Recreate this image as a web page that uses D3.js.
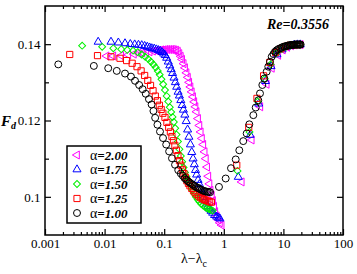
<!DOCTYPE html>
<html>
<head>
<meta charset="utf-8">
<script src="https://cdn.jsdelivr.net/npm/d3@7"></script>
<style>
  body { margin: 0; background: #fff; }
  svg { display: block; }
  text { font-family: "Liberation Serif", "Times New Roman", serif; }
</style>
</head>
<body>
<svg id="chart"></svg>
<script>
// values: [lambda - lambda_c, F_d]
const alpha200 = [
  [0.0108,0.1369],[0.014,0.1369],[0.019,0.1370],[0.025,0.1372],[0.031,0.1374],[0.037,0.1376],[0.043,0.1377],
  [0.05,0.1379],[0.057,0.1380],[0.065,0.1382],[0.073,0.1383],[0.081,0.1384],[0.089,0.1385],[0.097,0.1385],
  [0.105,0.1386],[0.113,0.1386],[0.122,0.1386],[0.131,0.1386],[0.14,0.1386],[0.15,0.1385],[0.16,0.1384],
  [0.17,0.1381],[0.18,0.1375],[0.19,0.1368],[0.2,0.1360],[0.212,0.1349],[0.224,0.1338],[0.237,0.1325],
  [0.25,0.1313],[0.263,0.1300],[0.276,0.1288],[0.29,0.1275],[0.305,0.1262],[0.32,0.1249],[0.335,0.1236],
  [0.35,0.1223],[0.37,0.1205],[0.39,0.1187],[0.41,0.1170],[0.43,0.1153],[0.453,0.1137],[0.477,0.1118],
  [0.5,0.1100],[0.525,0.1078],[0.55,0.1054],[0.575,0.1034],[0.6,0.1017],[0.63,0.1004],[0.66,0.0990],
  [0.69,0.0975],[0.72,0.0961],[0.76,0.0950],[0.81,0.0940],[0.86,0.0932],[0.92,0.0926],
  [2.0,0.1039],[2.94,0.1149],[4.1,0.1236],[5.25,0.1295],[6.4,0.1337],[8.2,0.1371],[9.8,0.1385],
  [11.6,0.1392],[13.5,0.1396],[15.5,0.1398],[17.5,0.1399],[19.5,0.1399]
];

const alpha175 = [
  [0.0078,0.1406],[0.0128,0.1406],[0.017,0.1404],[0.022,0.1402],[0.027,0.1400],[0.032,0.1399],[0.037,0.1398],
  [0.042,0.1397],[0.047,0.1395],[0.052,0.1393],[0.057,0.1391],[0.062,0.1389],[0.068,0.1388],[0.074,0.1386],
  [0.08,0.1384],[0.086,0.1382],[0.092,0.1379],[0.098,0.1375],[0.104,0.1371],[0.11,0.1364],[0.117,0.1354],
  [0.124,0.1344],[0.131,0.1334],[0.138,0.1324],[0.146,0.1312],[0.154,0.1300],[0.162,0.1288],[0.171,0.1275],
  [0.18,0.1265],[0.19,0.1253],[0.2,0.1240],[0.21,0.1228],[0.222,0.1215],[0.234,0.1198],[0.247,0.1176],
  [0.26,0.1157],[0.275,0.1137],[0.29,0.1117],[0.305,0.1100],[0.32,0.1085],[0.335,0.1070],[0.35,0.1058],
  [0.37,0.1044],[0.39,0.1033],[0.41,0.1020],[0.43,0.1010],[0.455,0.0999],[0.48,0.0990],[0.51,0.0982],
  [0.54,0.0975],[0.57,0.0969],[0.61,0.0963],[0.65,0.0958],[0.7,0.0952],[0.76,0.0948],[0.82,0.0945],[0.86,0.0943],
  [1.75,0.1052],[2.77,0.1162],[3.85,0.1244],[5.0,0.1303],[6.2,0.1342],[7.8,0.1373],[9.5,0.1386],
  [11.3,0.1393],[13.2,0.1396],[15.2,0.1398],[17.2,0.1399],[19.2,0.1399]
];

const alpha150 = [
  [0.0042,0.1396],[0.0091,0.1393],[0.014,0.1389],[0.019,0.1387],[0.024,0.1385],[0.03,0.1383],[0.036,0.1379],
  [0.042,0.1373],[0.048,0.1367],[0.054,0.1361],[0.06,0.1354],[0.066,0.1347],[0.072,0.1339],[0.078,0.1330],
  [0.084,0.1320],[0.09,0.1308],[0.096,0.1295],[0.103,0.1280],[0.11,0.1264],[0.117,0.1250],[0.124,0.1235],
  [0.131,0.1222],[0.138,0.1209],[0.145,0.1196],[0.153,0.1180],[0.161,0.1163],[0.17,0.1145],[0.18,0.1125],
  [0.19,0.1107],[0.2,0.1092],[0.211,0.1077],[0.223,0.1064],[0.236,0.1053],[0.25,0.1043],[0.265,0.1035],
  [0.28,0.1027],[0.3,0.1017],[0.32,0.1008],[0.34,0.1000],[0.365,0.0993],[0.39,0.0987],[0.42,0.0981],
  [0.45,0.0977],[0.48,0.0974],[0.52,0.0970],[0.56,0.0968],[0.6,0.0966],[0.65,0.0964],
  [1.7,0.1068],[2.7,0.1170],[3.7,0.1250],[4.85,0.1309],[6.1,0.1347],[7.6,0.1376],[9.3,0.1387],
  [11.1,0.1393],[13.0,0.1396],[15.0,0.1398],[17.0,0.1399],[19.0,0.1399]
];

const alpha125 = [
  [0.0026,0.1373],[0.0076,0.1370],[0.0128,0.1367],[0.0181,0.1363],[0.0234,0.1357],[0.029,0.1350],[0.035,0.1341],
  [0.041,0.1330],[0.047,0.1318],[0.053,0.1305],[0.059,0.1292],[0.065,0.1278],[0.071,0.1264],[0.077,0.1252],
  [0.083,0.1240],[0.089,0.1229],[0.095,0.1219],[0.103,0.1208],[0.111,0.1195],[0.119,0.1182],[0.127,0.1170],
  [0.135,0.1158],[0.143,0.1147],[0.151,0.1135],[0.16,0.1122],[0.17,0.1108],[0.18,0.1095],[0.19,0.1083],
  [0.202,0.1071],[0.214,0.1061],[0.227,0.1051],[0.24,0.1042],[0.255,0.1035],[0.27,0.1029],[0.29,0.1022],
  [0.31,0.1016],[0.33,0.1011],[0.355,0.1006],[0.38,0.1002],[0.41,0.0998],[0.44,0.0995],[0.47,0.0993],
  [0.5,0.0991],[0.54,0.0989],[0.58,0.0987],[0.62,0.0986],
  [1.65,0.1083],[2.62,0.1182],[3.6,0.1258],[4.65,0.1317],[5.9,0.1352],[7.4,0.1378],[9.1,0.1388],
  [10.9,0.1394],[12.8,0.1397],[14.8,0.1398],[16.8,0.1399],[18.8,0.1399]
];

const alpha100 = [
  [0.00167,0.1347],[0.0066,0.1343],[0.0115,0.1337],[0.016,0.1330],[0.022,0.1323],[0.0277,0.1315],[0.0324,0.1304],
  [0.038,0.1293],[0.0435,0.1282],[0.049,0.1270],[0.0555,0.1256],[0.0615,0.1242],[0.066,0.1225],[0.0705,0.1207],
  [0.077,0.1189],[0.085,0.1171],[0.0955,0.1154],[0.108,0.1137],[0.121,0.1119],[0.135,0.1101],[0.152,0.1084],
  [0.172,0.1070],[0.19,0.1061],[0.205,0.1055],[0.22,0.1049],[0.235,0.1045],[0.25,0.1041],[0.265,0.1038],
  [0.28,0.1035],[0.3,0.1032],[0.32,0.1029],[0.34,0.1026],[0.36,0.1024],[0.38,0.1022],[0.4,0.1020],
  [0.425,0.1018],[0.45,0.1016],[0.475,0.1015],[0.5,0.1014],[0.53,0.1013],[0.56,0.1013],[0.59,0.1012],
  [0.83,0.1026],[1.076,0.1048],[1.32,0.1075],[1.585,0.1098],[1.82,0.1122],[2.12,0.1146],[2.42,0.1166],
  [2.68,0.1190],[3.13,0.1214],[3.43,0.1234],[3.79,0.1253],[4.05,0.1271],[4.43,0.1293],[4.78,0.1310],
  [5.25,0.1328],[5.58,0.1341],[5.96,0.1354],[6.36,0.1367],[6.8,0.1374],[7.22,0.1380],[7.7,0.1384],
  [8.2,0.1387],[8.77,0.1389],[9.3,0.1391],[9.9,0.1393],[10.5,0.1394],[11.1,0.1395],[11.7,0.1396],
  [12.3,0.1397],[12.9,0.1397],[13.5,0.1398],[14.1,0.1398],[14.7,0.1398],[15.3,0.1399],[15.9,0.1399],
  [16.5,0.1399],[17.1,0.1399],[17.7,0.1399],[18.3,0.1399],[18.9,0.1399],[19.5,0.1399]
];

const alphaLabels = ["2.00", "1.75", "1.50", "1.25", "1.00"];
const xTicks = [0.001, 0.01, 0.1, 1, 10, 100];
const xTickLabels = ["0.001", "0.01", "0.1", "1", "10", "100"];
const yTicks = [0.1, 0.12, 0.14];
const yTickLabels = ["0.1", "0.12", "0.14"];
const yMinorTicks = [0.11, 0.13];

const WIDTH = 357, HEIGHT = 274;
const margin = { top: 6, right: 14, bottom: 39, left: 45 };
const width = WIDTH - margin.left - margin.right,
      height = HEIGHT - margin.top - margin.bottom;

const series = [
  { label: alphaLabels[0], data: alpha200, color: "#ff00ff", shape: d3.symbolTriangle, size: 28, rot: -90 },
  { label: alphaLabels[1], data: alpha175, color: "#0000ff", shape: d3.symbolTriangle, size: 28, rot: 0 },
  { label: alphaLabels[2], data: alpha150, color: "#00f000", shape: d3.symbolSquare, size: 24, rot: 45 },
  { label: alphaLabels[3], data: alpha125, color: "#ff0000", shape: d3.symbolSquare, size: 38, rot: 0 },
  { label: alphaLabels[4], data: alpha100, color: "#000000", shape: d3.symbolCircle, size: 38, rot: 0 }
];

const svg = d3.select("svg#chart")
    .attr("width", WIDTH)
    .attr("height", HEIGHT);

const g = svg.append("g")
    .attr("transform", `translate(${margin.left}, ${margin.top})`);

const x = d3.scaleLog().domain([0.001, 100]).range([0, width]);
const y = d3.scaleLinear().domain([0.09, 0.15]).range([height, 0]);

const xMinor = x.ticks().filter(d => !xTicks.some(t => Math.abs(t - d) / t < 1e-6));

// axes, ticks pointing inwards on all four sides
const styleAxis = (sel) => {
  sel.select(".domain").remove();
  sel.selectAll("line").attr("stroke", "#000").attr("stroke-width", 1.2);
  sel.selectAll("text").attr("font-size", 13).attr("fill", "#000")
     .style("font-family", '"Liberation Serif", serif');
};

g.append("g").attr("transform", `translate(0, ${height})`)
  .call(d3.axisBottom(x).tickValues(xMinor).tickFormat("").tickSizeInner(-3).tickSizeOuter(0))
  .call(styleAxis);
g.append("g").attr("transform", `translate(0, ${height})`)
  .call(d3.axisBottom(x).tickValues(xTicks).tickFormat((d, i) => xTickLabels[i])
        .tickSizeInner(-6).tickSizeOuter(0).tickPadding(4))
  .call(styleAxis);
g.append("g")
  .call(d3.axisTop(x).tickValues(xMinor).tickFormat("").tickSizeInner(-3).tickSizeOuter(0))
  .call(styleAxis);
g.append("g")
  .call(d3.axisTop(x).tickValues(xTicks).tickFormat("").tickSizeInner(-6).tickSizeOuter(0))
  .call(styleAxis);

g.append("g")
  .call(d3.axisLeft(y).tickValues(yTicks).tickFormat((d, i) => yTickLabels[i])
        .tickSizeInner(-6).tickSizeOuter(0).tickPadding(4.5))
  .call(styleAxis);
g.append("g")
  .call(d3.axisLeft(y).tickValues(yMinorTicks).tickFormat("").tickSizeInner(-4).tickSizeOuter(0))
  .call(styleAxis);
g.append("g").attr("transform", `translate(${width}, 0)`)
  .call(d3.axisRight(y).tickValues(yTicks).tickFormat("").tickSizeInner(-6).tickSizeOuter(0))
  .call(styleAxis);
g.append("g").attr("transform", `translate(${width}, 0)`)
  .call(d3.axisRight(y).tickValues(yMinorTicks).tickFormat("").tickSizeInner(-4).tickSizeOuter(0))
  .call(styleAxis);

// points
series.forEach((s) => {
  const sym = d3.symbol().type(s.shape).size(s.size);
  g.append("g").selectAll("path")
    .data(s.data)
    .join("path")
      .attr("d", sym)
      .attr("transform", d => `translate(${x(d[0])}, ${y(d[1])}) rotate(${s.rot})`)
      .attr("fill", "none")
      .attr("stroke", s.color)
      .attr("stroke-width", 1);
});

// frame
g.append("rect")
  .attr("width", width)
  .attr("height", height)
  .attr("fill", "none")
  .attr("stroke", "#000")
  .attr("stroke-width", 1.5);

// legend
const rowGap = 14.5;
const legend = svg.append("g").attr("transform", "translate(67, 146)");
legend.append("rect")
  .attr("width", 74)
  .attr("height", 77)
  .attr("fill", "#fff")
  .attr("stroke", "#000")
  .attr("stroke-width", 1.5);

series.forEach((s, i) => {
  legend.append("path")
    .attr("d", d3.symbol().type(s.shape).size(s.size))
    .attr("transform", `translate(10, ${9 + i * rowGap}) rotate(${s.rot})`)
    .attr("fill", "none")
    .attr("stroke", s.color)
    .attr("stroke-width", 1);

  const t = legend.append("text")
    .attr("x", 23)
    .attr("y", 13.5 + i * rowGap)
    .attr("font-size", 13);
  t.append("tspan").attr("font-size", 14).text("α");
  t.append("tspan")
    .attr("font-weight", "bold")
    .attr("font-style", "italic")
    .text("=" + s.label);
});

// labels
svg.append("text")
  .attr("x", 329)
  .attr("y", 29)
  .attr("text-anchor", "end")
  .attr("font-size", 14)
  .attr("font-weight", "bold")
  .attr("font-style", "italic")
  .text("Re=0.3556");

const yLabel = svg.append("text")
  .attr("x", 1)
  .attr("y", 126)
  .attr("font-size", 15)
  .attr("font-weight", "bold")
  .attr("font-style", "italic");
yLabel.append("tspan").text("F");
yLabel.append("tspan").attr("font-size", 10).attr("dy", 3).text("d");

const xLabel = svg.append("text")
  .attr("x", margin.left + width / 2)
  .attr("y", 263)
  .attr("text-anchor", "middle")
  .attr("font-size", 14);
xLabel.append("tspan").text("λ−λ");
xLabel.append("tspan").attr("font-size", 10).attr("dy", 4).text("c");
</script>
</body>
</html>
